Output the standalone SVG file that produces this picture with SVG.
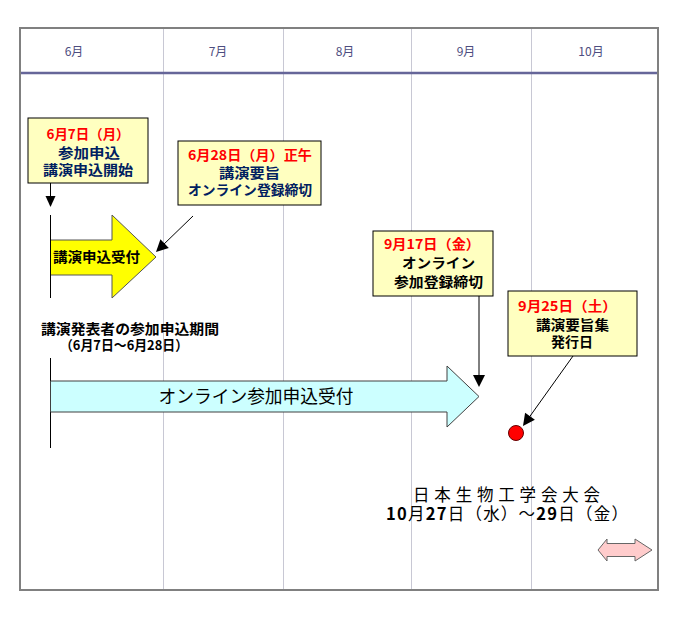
<svg xmlns="http://www.w3.org/2000/svg" width="676" height="636" viewBox="0 0 676 636">
<style>
text{font-family:"Noto Sans CJK JP","Liberation Sans",sans-serif;}
.mon{font-size:12px;fill:#4D4D80;text-anchor:middle;}
.box{fill:#FFFFC0;stroke:#000;stroke-width:1;}
.red{font-size:13.5px;font-weight:bold;fill:#FF0000;text-anchor:middle;}
.nav{font-size:13.5px;font-weight:bold;fill:#002060;text-anchor:middle;}
.blk{font-size:13.5px;font-weight:bold;fill:#000;text-anchor:middle;}
.grid{stroke:#C8C8D4;stroke-width:1;}
.con{stroke:#000;stroke-width:1;fill:none;}
.head{fill:#000;stroke:none;}
</style>
<rect x="0" y="0" width="676" height="636" fill="#FFFFFF"/>
<g id="frame">
<rect x="20" y="28" width="638" height="562" fill="#FFFFFF" stroke="#808080" stroke-width="2"/>
<line class="grid" x1="163.5" y1="29" x2="163.5" y2="589"/>
<line class="grid" x1="283.5" y1="29" x2="283.5" y2="589"/>
<line class="grid" x1="411.5" y1="29" x2="411.5" y2="589"/>
<line class="grid" x1="531.5" y1="29" x2="531.5" y2="589"/>
<line x1="21" y1="73" x2="657" y2="73" stroke="#666699" stroke-width="2.5"/>
</g>
<g id="months">
<text class="mon" x="74" y="56">6月</text>
<text class="mon" x="218" y="56">7月</text>
<text class="mon" x="345" y="56">8月</text>
<text class="mon" x="466" y="56">9月</text>
<text class="mon" x="591" y="56">10月</text>
</g>
<g id="connectors">
<line class="con" x1="50.5" y1="183" x2="50.5" y2="197"/>
<polygon class="head" points="45.5,196 55.5,196 50.5,207"/>
<line class="con" x1="193" y1="216" x2="162" y2="246"/>
<polygon class="head" points="156,252 168.8,247.9 160.4,239.3"/>
<line class="con" x1="479" y1="296" x2="479" y2="376"/>
<polygon class="head" points="473,375 485,375 479,387"/>
<line class="con" x1="573" y1="356" x2="528" y2="419"/>
<polygon class="head" points="523,426 534.9,419.7 525.1,412.7"/>
</g>
<g id="period-lines">
<line class="con" x1="50.5" y1="215" x2="50.5" y2="298"/>
<line class="con" x1="50.5" y1="358" x2="50.5" y2="448"/>
</g>
<g id="arrow-lecture">
<polygon points="50.5,240 112,240 112,215 156,257 112,298 112,275 50.5,275" fill="#FFFF00" stroke="#555555" stroke-width="1"/>
<line class="con" x1="50.5" y1="215" x2="50.5" y2="298"/>
<text x="53" y="262" font-size="14" font-weight="bold" fill="#000" textLength="87" lengthAdjust="spacingAndGlyphs">講演申込受付</text>
</g>
<g id="arrow-online">
<polygon points="50.5,381 447,381 447,366 479,396.5 447,427 447,412 50.5,412" fill="#CCFFFF" stroke="#404040" stroke-width="1"/>
<text x="256" y="403" font-size="18" fill="#000" text-anchor="middle" textLength="195" lengthAdjust="spacingAndGlyphs">オンライン参加申込受付</text>
</g>
<g id="box1">
<rect class="box" x="28" y="118" width="120" height="65"/>
<text class="red" x="88" y="139" textLength="83" lengthAdjust="spacingAndGlyphs">6月7日（月）</text>
<text class="nav" x="89" y="158" textLength="62" lengthAdjust="spacingAndGlyphs">参加申込</text>
<text class="nav" x="88" y="175" textLength="90" lengthAdjust="spacingAndGlyphs">講演申込開始</text>
</g>
<g id="box2">
<rect class="box" x="178" y="141" width="143" height="64"/>
<text class="red" x="250" y="160" textLength="124" lengthAdjust="spacingAndGlyphs">6月28日（月）正午</text>
<text class="nav" x="249.5" y="178" textLength="61" lengthAdjust="spacingAndGlyphs">講演要旨</text>
<text class="nav" x="250" y="195" textLength="124" lengthAdjust="spacingAndGlyphs">オンライン登録締切</text>
</g>
<g id="period-label">
<text x="41" y="334" font-size="14" font-weight="bold" fill="#000" textLength="178" lengthAdjust="spacingAndGlyphs">講演発表者の参加申込期間</text>
<text x="60" y="350" font-size="13.5" font-weight="bold" fill="#000" textLength="128" lengthAdjust="spacingAndGlyphs">（6月7日～6月28日）</text>
</g>
<g id="box3">
<rect class="box" x="373" y="231" width="120" height="65"/>
<text class="red" x="432" y="249" textLength="96" lengthAdjust="spacingAndGlyphs">9月17日（金）</text>
<text class="blk" x="438.5" y="268" textLength="73" lengthAdjust="spacingAndGlyphs">オンライン</text>
<text class="blk" x="438.5" y="287" textLength="89" lengthAdjust="spacingAndGlyphs">参加登録締切</text>
</g>
<g id="box4">
<rect class="box" x="508" y="291" width="129" height="65"/>
<text class="red" x="567.5" y="311" textLength="99" lengthAdjust="spacingAndGlyphs">9月25日（土）</text>
<text class="blk" x="572.5" y="330" textLength="73" lengthAdjust="spacingAndGlyphs">講演要旨集</text>
<text class="blk" x="572" y="347" textLength="42" lengthAdjust="spacingAndGlyphs">発行日</text>
</g>
<g id="dot">
<circle cx="516" cy="433" r="7.5" fill="#FF0000" stroke="#660000" stroke-width="1"/>
</g>
<g id="conference">
<text x="506.5" y="501" font-size="16.5" fill="#000" text-anchor="middle" textLength="187" lengthAdjust="spacing">日本生物工学会大会</text>
<text x="386" y="520" font-size="16.5" fill="#000" textLength="242" lengthAdjust="spacing"><tspan font-weight="bold">10</tspan>月<tspan font-weight="bold">27</tspan>日（水）～<tspan font-weight="bold">29</tspan>日（金）</text>
</g>
<g id="double-arrow">
<polygon points="598,550 607,539 607,543.5 635,543.5 635,539 652,550 635,561 635,556.5 607,556.5 607,561" fill="#FFCCCC" stroke="#666666" stroke-width="1"/>
</g>
</svg>
